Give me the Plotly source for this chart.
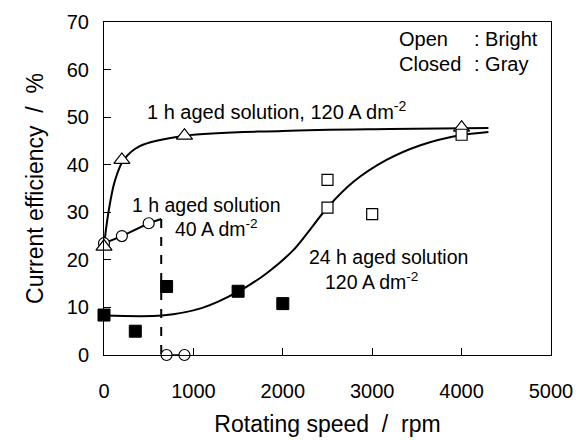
import plotly.graph_objects as go

# ---- data ----
tri_x = [0, 200, 900, 4000]
tri_y = [22.8, 41.0, 46.1, 47.8]

circ_x = [0, 200, 500, 700, 900]
circ_y = [23.5, 25.0, 27.7, 0, 0]

circ_line_x = [0, 200, 500, 640]
circ_line_y = [23.5, 25.0, 27.7, 28.6]
dash_x = [640, 640]
dash_y = [28.6, 0]
low_line_x = [700, 900]
low_line_y = [0, 0]

sq_open_x = [2500, 2500, 3000, 4000]
sq_open_y = [36.8, 31.0, 29.6, 46.3]

sq_fill_x = [0, 350, 700, 1500, 2000]
sq_fill_y = [8.4, 5.0, 14.4, 13.4, 10.8]

curve1_x = [0, 50, 120, 220, 400, 900, 2000, 3200, 4300]
curve1_y = [23.0, 30.0, 36.5, 41.0, 43.9, 46.1, 47.1, 47.5, 47.7]

curve2_x = [0, 650, 1100, 1500, 1820, 2120, 2500, 2790, 3160, 3540, 3980, 4300]
curve2_y = [8.3, 8.3, 9.9, 13.3, 17.2, 22.1, 31.0, 36.4, 41.0, 44.1, 46.2, 46.9]

FONT = "Liberation Sans, Arial, Helvetica, sans-serif"

fig = go.Figure()

fig.add_trace(go.Scatter(x=curve1_x, y=curve1_y, mode="lines",
                         line=dict(color="black", width=2, shape="spline", smoothing=1.0),
                         showlegend=False, hoverinfo="skip"))
fig.add_trace(go.Scatter(x=curve2_x, y=curve2_y, mode="lines",
                         line=dict(color="black", width=2, shape="spline", smoothing=0.8),
                         showlegend=False, hoverinfo="skip"))
fig.add_trace(go.Scatter(x=circ_line_x, y=circ_line_y, mode="lines",
                         line=dict(color="black", width=2), showlegend=False, cliponaxis=False))
fig.add_trace(go.Scatter(x=dash_x, y=dash_y, mode="lines",
                         line=dict(color="black", width=2, dash="dash"), showlegend=False, cliponaxis=False))
fig.add_trace(go.Scatter(x=low_line_x, y=low_line_y, mode="lines",
                         line=dict(color="black", width=1.5), showlegend=False, cliponaxis=False))

fig.add_trace(go.Scatter(x=circ_x, y=circ_y, mode="markers", cliponaxis=False,
                         marker=dict(symbol="circle", size=11, color="white",
                                     line=dict(color="black", width=1.2)),
                         showlegend=False))
fig.add_trace(go.Scatter(x=tri_x, y=tri_y, mode="markers", cliponaxis=False,
                         marker=dict(symbol="triangle-up", size=14, color="white",
                                     line=dict(color="black", width=1.2)),
                         showlegend=False))
fig.add_trace(go.Scatter(x=sq_open_x, y=sq_open_y, mode="markers", cliponaxis=False,
                         marker=dict(symbol="square", size=11, color="white",
                                     line=dict(color="black", width=1.2)),
                         showlegend=False))
fig.add_trace(go.Scatter(x=sq_fill_x, y=sq_fill_y, mode="markers", cliponaxis=False,
                         marker=dict(symbol="square", size=12, color="black",
                                     line=dict(color="black", width=1)),
                         showlegend=False))

annots = [
    dict(x=464, y=51.3, text="1 h aged solution, 120 A dm<sup>-2</sup>", size=20),
    dict(x=296, y=31.6, text="1 h aged solution", size=19.5),
    dict(x=777, y=26.6, text="40 A dm<sup>-2</sup>", size=19.5),
    dict(x=2274, y=20.6, text="24 h aged solution", size=19.5),
    dict(x=2453, y=15.6, text="120 A dm<sup>-2</sup>", size=19.5),
    dict(x=3279, y=66.4, text="Open", size=20),
    dict(x=4117, y=66.4, text=": Bright", size=20),
    dict(x=3279, y=61.1, text="Closed", size=20),
    dict(x=4117, y=61.1, text=": Gray", size=20),
]
for a in annots:
    fig.add_annotation(x=a["x"], y=a["y"], text=a["text"], showarrow=False,
                       xanchor="left", yanchor="middle",
                       font=dict(family=FONT, size=a["size"], color="black"))

axis_common = dict(showgrid=False, zeroline=False, showline=True, linecolor="black",
                   linewidth=1, mirror=True, ticks="inside", ticklen=7, tickcolor="black",
                   tickfont=dict(family=FONT, size=20, color="black"))

fig.update_xaxes(range=[0, 5000], tickvals=[0, 1000, 2000, 3000, 4000, 5000],
                 ticklabelstandoff=18,
                 title=dict(text="Rotating speed  /  rpm", font=dict(family=FONT, size=23, color="black"),
                            standoff=14),
                 **axis_common)
fig.update_yaxes(range=[0, 70], tickvals=[0, 10, 20, 30, 40, 50, 60, 70],
                 ticklabelstandoff=10,
                 title=dict(text="Current efficiency  /  %", font=dict(family=FONT, size=23, color="black"),
                            standoff=16),
                 **axis_common)

fig.update_layout(width=587, height=440, margin=dict(l=104, r=36, t=22, b=85, autoexpand=False),
                  paper_bgcolor="white", plot_bgcolor="white")

fig.write_html("out.html")
